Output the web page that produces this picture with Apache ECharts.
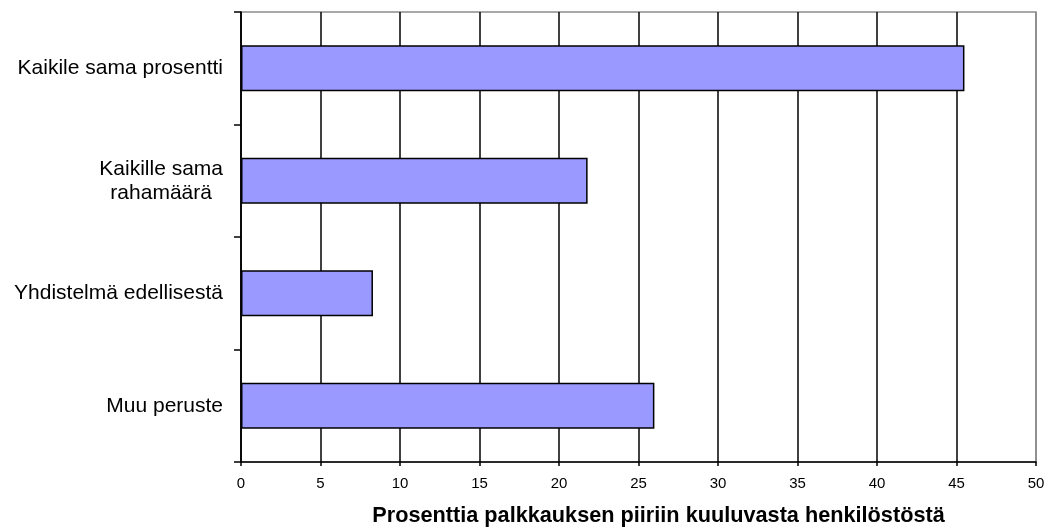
<!DOCTYPE html>
<html>
<head>
<meta charset="utf-8">
<script src="https://cdn.jsdelivr.net/npm/echarts@6/dist/echarts.min.js"></script>
<style>
  html, body { margin: 0; padding: 0; background: #fff; }
  #chart { width: 1063px; height: 529px; }
</style>
</head>
<body>
<div id="chart"></div>
<script>
// Palkkauksen jakoperusteet, osuus henkilöstöstä (%)
const categories = [
  'Kaikile sama prosentti',
  'Kaikille sama\nrahamäärä',
  'Yhdistelmä edellisestä',
  'Muu peruste'
];
const values = [45.5, 21.8, 8.3, 26.0];
const xTicks = [0, 5, 10, 15, 20, 25, 30, 35, 40, 45, 50];
const axisTitle = 'Prosenttia palkkauksen piiriin kuuluvasta henkilöstöstä';

const FONT = '"Liberation Sans", Arial, Helvetica, sans-serif';

// grid lines black, the last one (at the frame edge) grey
const splitColors = xTicks.map((t, i) => (i === xTicks.length - 1 ? '#888888' : '#000000'));

const chart = echarts.init(document.getElementById('chart'), null, { renderer: 'canvas' });
chart.setOption({
  animation: false,
  backgroundColor: '#ffffff',
  grid: {
    left: 241,
    right: 27,
    top: 12,
    bottom: 67,
    outerBoundsMode: 'none',
    containLabel: false,
    show: true,
    borderColor: '#8c8c8c',
    borderWidth: 1.5,
    backgroundColor: 'transparent'
  },
  xAxis: {
    type: 'value',
    min: xTicks[0],
    max: xTicks[xTicks.length - 1],
    interval: 5,
    name: axisTitle,
    nameLocation: 'middle',
    nameGap: 43,
    nameTextStyle: {
      fontFamily: FONT,
      fontWeight: 'bold',
      fontSize: 21.7,
      color: '#000',
      padding: [0, 0, 0, 40]
    },
    axisLine: { show: true, lineStyle: { color: '#000', width: 1.5 } },
    axisTick: { show: true, inside: false, length: 4, lineStyle: { color: '#000', width: 1.5 } },
    axisLabel: {
      margin: 14,
      fontFamily: FONT,
      fontSize: 15,
      color: '#000'
    },
    splitLine: { show: true, lineStyle: { color: splitColors, width: 1.5 } }
  },
  yAxis: {
    type: 'category',
    inverse: true,
    data: categories,
    axisLine: { show: true, lineStyle: { color: '#000', width: 1.5 } },
    axisTick: { show: true, inside: false, length: 7, alignWithLabel: false, lineStyle: { color: '#000', width: 1.5 } },
    axisLabel: {
      margin: 18,
      fontFamily: FONT,
      fontSize: 21,
      color: '#000',
      align: 'right',
      formatter: function (v) {
        return v.split('\n').map(s => '{c|' + s + '}').join('\n');
      },
      rich: {
        c: {
          fontFamily: FONT,
          fontSize: 21,
          color: '#000',
          align: 'center',
          lineHeight: 24
        }
      }
    },
    splitLine: { show: false }
  },
  series: [{
    type: 'bar',
    data: values,
    barWidth: 46,
    itemStyle: {
      color: '#9999ff',
      borderColor: '#000',
      borderWidth: 1.5
    },
    silent: true
  }]
});
</script>
</body>
</html>
